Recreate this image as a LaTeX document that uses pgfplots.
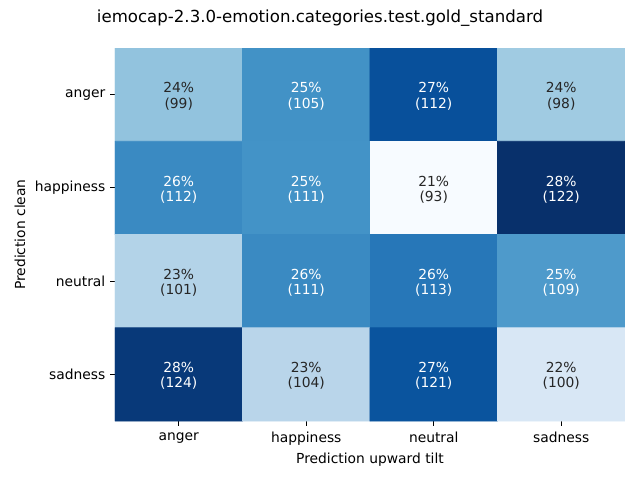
\documentclass[border=0pt]{standalone}
\usepackage{fontspec}
\setmainfont{DejaVu Sans}
\usepackage{pgfplots}
\pgfplotsset{compat=1.18}
\definecolor{darktext}{HTML}{262626}
\begin{document}
\begin{tikzpicture}
\path[use as bounding box] (0,0) rectangle (6.4in,4.8in);
\node[font=\fontsize{12}{14}\selectfont] at (3.2in,4.62in) {iemocap-2.3.0-emotion.categories.test.gold\_standard};
\begin{axis}[at={(1.15in,0.59in)}, anchor=south west, scale only axis,
  width=5.1in, height=3.73in,
  xmin=-0.5, xmax=3.5, ymin=-0.5, ymax=3.5, y dir=reverse,
  xtick={0,1,2,3}, xticklabels={anger,happiness,neutral,sadness},
  ytick={0,1,2,3}, yticklabels={anger,happiness,neutral,sadness},
  axis line style={draw=none}, tick align=outside, xtick pos=bottom, ytick pos=left,
  major tick length=3.5pt, tick style={black, line width=0.8pt},
  colormap={mplblues}{rgb255=(247,251,255) rgb255=(222,235,247) rgb255=(198,219,239) rgb255=(158,202,225) rgb255=(107,174,214) rgb255=(66,146,198) rgb255=(33,113,181) rgb255=(8,81,156) rgb255=(8,48,107)},
  point meta min=21.23, point meta max=27.85,
  xlabel={Prediction upward tilt}, ylabel={Prediction clean},
  label style={font=\fontsize{10}{12}\selectfont},
  xlabel style={yshift=1.4pt},
  tick label style={font=\fontsize{10}{12}\selectfont},
  xticklabel style={yshift=-1.2pt},
  every node near coord/.append style={font=\fontsize{10}{11}\selectfont, align=center, anchor=center, yshift=-1.2pt},
]
\addplot[matrix plot*, mesh/cols=4, point meta=explicit] table[meta=c] {
x y c
0 0 23.91
1 0 25.36
2 0 27.05
3 0 23.67
0 1 25.57
1 1 25.34
2 1 21.23
3 1 27.85
0 2 23.27
1 2 25.58
2 2 26.04
3 2 25.12
0 3 27.62
1 3 23.16
2 3 26.95
3 3 22.27
};
\addplot[draw=none, mark=none, visualization depends on={value \thisrow{p}\as\pct},
  visualization depends on={value \thisrow{n}\as\cnt},
  nodes near coords={\pct\%\\(\cnt)},
  every node near coord/.append style={text=white}] table {
x y p n
1 0 25 105
2 0 27 112
0 1 26 112
1 1 25 111
3 1 28 122
1 2 26 111
2 2 26 113
3 2 25 109
0 3 28 124
2 3 27 121
};
\addplot[draw=none, mark=none, visualization depends on={value \thisrow{p}\as\pct},
  visualization depends on={value \thisrow{n}\as\cnt},
  nodes near coords={\pct\%\\(\cnt)},
  every node near coord/.append style={text=darktext}] table {
x y p n
0 0 24 99
3 0 24 98
2 1 21 93
0 2 23 101
1 3 23 104
3 3 22 100
};
\end{axis}
\end{tikzpicture}
\end{document}
